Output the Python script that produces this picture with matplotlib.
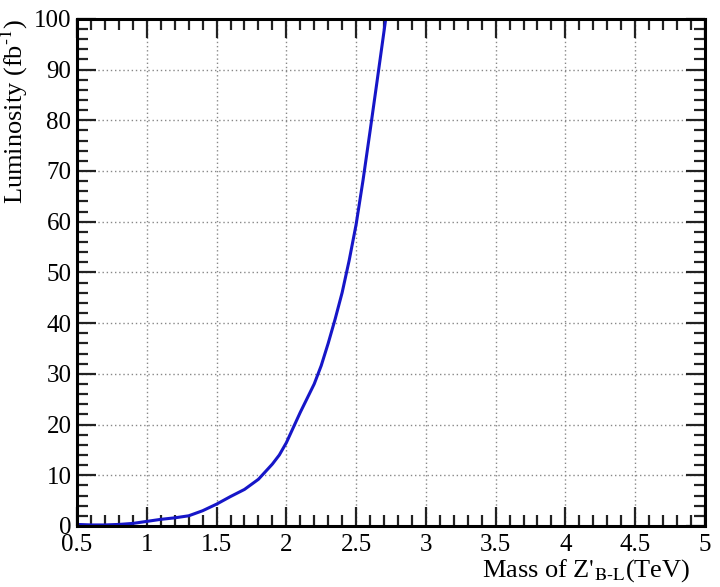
import numpy as np
import matplotlib
matplotlib.use('Agg')
import matplotlib.pyplot as plt
from matplotlib.ticker import MultipleLocator, FuncFormatter

mass = [0.5, 0.6, 0.7, 0.8, 0.9, 1.0, 1.1, 1.2, 1.3, 1.4, 1.5, 1.6, 1.7, 1.8,
        1.9, 1.95, 2.0, 2.05, 2.1, 2.15, 2.2, 2.25, 2.3, 2.35, 2.4, 2.45, 2.5,
        2.55, 2.6, 2.65, 2.7, 2.72]
lumi = [0.3, 0.2, 0.2, 0.3, 0.5, 0.9, 1.3, 1.6, 2.0, 3.0, 4.3, 5.8, 7.2, 9.2,
        12.2, 14.0, 16.4, 19.4, 22.4, 25.2, 28.0, 31.6, 36.0, 40.8, 46.0, 52.3, 59.4,
        68.2, 77.8, 87.6, 97.5, 101.5]

plt.rcParams['font.family'] = ['Liberation Serif', 'DejaVu Serif']
plt.rcParams['mathtext.fontset'] = 'stix'

fig = plt.figure(figsize=(7.2, 5.87), dpi=100)
ax = fig.add_axes([0.107, 0.104, 0.872, 0.864])

ax.plot(mass, lumi, color='#1616c8', lw=2.2, solid_joinstyle='round')

ax.set_xlim(0.5, 5)
ax.set_ylim(0, 100)
ax.xaxis.set_major_locator(MultipleLocator(0.5))
ax.xaxis.set_minor_locator(MultipleLocator(0.1))
ax.yaxis.set_major_locator(MultipleLocator(10))
ax.yaxis.set_minor_locator(MultipleLocator(2))
ax.xaxis.set_major_formatter(FuncFormatter(lambda v, p: '%g' % v))

ax.tick_params(which='both', direction='in', top=True, right=True,
               labelsize=18, color='#222222', width=1.6)
ax.tick_params(which='major', length=14)
ax.tick_params(which='minor', length=8)
ax.tick_params(axis='x', which='major', pad=6)
ax.tick_params(axis='y', which='major', pad=4)

ax.grid(True, which='major', color='#888888', linestyle=(0, (1, 2)), lw=1.0)

for s in ax.spines.values():
    s.set_linewidth(2.2)
    s.set_color('black')

ax.set_xlabel(r"Mass of Z$'_{\text{B-L}}$(TeV)", fontsize=19, loc='right')
ax.xaxis.set_label_coords(0.977, -0.062)
ax.set_ylabel(r"Luminosity (fb$^{\text{-1}}$)", fontsize=19, loc='top')
ax.yaxis.set_label_coords(-0.075, 1.0)

fig.savefig('out.png', dpi=100, facecolor='white')
